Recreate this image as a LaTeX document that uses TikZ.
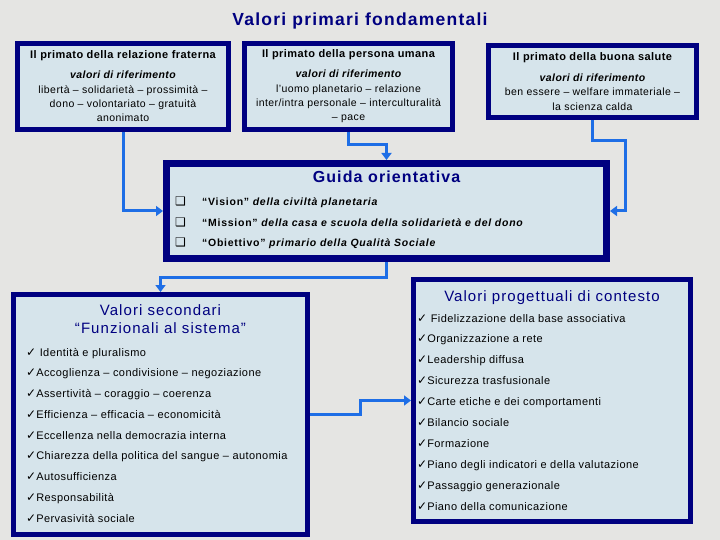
\documentclass[tikz,border=0pt]{standalone}
\usepackage{fontspec}
\setmainfont{Liberation Sans}[LetterSpace=4]
\newfontfamily\widefont{Liberation Sans}[LetterSpace=7]
\newfontfamily\symfont{DejaVu Sans}
\usetikzlibrary{arrows.meta,positioning}
\definecolor{valnavy}{RGB}{0,0,128}
\definecolor{valfill}{RGB}{214,228,235}
\definecolor{vallink}{RGB}{30,110,230}
\definecolor{valback}{RGB}{229,229,227}
\newcommand{\chk}{{\symfont\fontsize{12}{9}\selectfont ✓}}
\newcommand{\sqb}{{\symfont\fontsize{12}{10}\selectfont ❑}}

\begin{document}
\begin{tikzpicture}[x=1pt,y=-1pt,
    valbox/.style={draw=valnavy,fill=valfill,line width=5pt,inner sep=0pt,anchor=north west},
    primtext/.style={align=center,font=\fontsize{10.5}{14.3}\selectfont},
    vlink/.style={draw=vallink,line width=3pt,-{Triangle[width=10pt,length=7pt]}},
    boxtitle/.style={text=valnavy,font=\widefont\fontsize{15}{18}\selectfont},
    listitem/.style={anchor=base west,inner sep=0pt,font=\fontsize{11}{13}\selectfont}]
    \useasboundingbox[fill=valback] (0,0) rectangle (720,540);
    \node[text=valnavy,font=\widefont\bfseries\fontsize{17.5}{20}\selectfont] (title) at (360,21) {Valori primari fondamentali};
    % tre primati
    \node[valbox,primtext,minimum width=211,minimum height=86] (p1) at (15,41)
      {{\bfseries\fontsize{11}{12}\selectfont Il primato della relazione fraterna}\\[5.7pt]
       {\bfseries\itshape valori di riferimento}\\libertà – solidarietà – prossimità –\\dono – volontariato – gratuità\\anonimato};
    \node[valbox,primtext,minimum width=208,minimum height=86] (p2) at (242,41)
      {{\bfseries\fontsize{11}{12}\selectfont Il primato della persona umana}\\[5.7pt]
       {\bfseries\itshape valori di riferimento}\\l'uomo planetario – relazione\\inter/intra personale – interculturalità\\– pace};
    \node[valbox,primtext,minimum width=208,minimum height=72] (p3) at (486,43)
      {{\bfseries\fontsize{11}{12}\selectfont Il primato della buona salute}\\[6.7pt]
       {\bfseries\itshape valori di riferimento}\\ben essere – welfare immateriale –\\la scienza calda};
    % guida
    \node[valbox,line width=7pt,minimum width=440,minimum height=95] (guida) at (163,160) {};
    \node[text=valnavy,font=\widefont\bfseries\fontsize{16}{18}\selectfont] (gtitle) at (386.5,177) {Guida orientativa};
    \foreach \lbl/\rest [count=\i] in {Vision/della civiltà planetaria,
        Mission/della casa e scuola della solidarietà e del dono,
        Obiettivo/primario della Qualità Sociale} {
      \node[listitem] (b\i) at (175,185.5+20.5*\i) {\sqb};
      \node[listitem,font=\widefont\bfseries\fontsize{10.5}{13}\selectfont] (g\i) at (202,185.5+20.5*\i) {“\lbl” \textit{\rest}};
    }
    % valori secondari
    \node[valbox,minimum width=294,minimum height=240] (sec) at (11,292) {};
    \node[boxtitle,align=center] (stitle) at (160.5,319) {Valori secondari\\“Funzionali al sistema”};
    \foreach \itm [count=\i] in {\ Identità e pluralismo,
        Accoglienza – condivisione – negoziazione,
        Assertività – coraggio – coerenza,
        Efficienza – efficacia – economicità,
        Eccellenza nella democrazia interna,
        Chiarezza della politica del sangue – autonomia,
        Autosufficienza,
        Responsabilità,
        Pervasività sociale}
      \node[listitem] (s\i) at (26,335.25+20.75*\i) {\chk\itm};
    % valori progettuali
    \node[valbox,minimum width=277,minimum height=242] (prog) at (411,277) {};
    \node[boxtitle,anchor=base] (ptitle) at (552,301.5) {Valori progettuali di contesto};
    \foreach \itm [count=\i] in {\ Fidelizzazione della base associativa,
        Organizzazione a rete,
        Leadership diffusa,
        Sicurezza trasfusionale,
        Carte etiche e dei comportamenti,
        Bilancio sociale,
        Formazione,
        Piano degli indicatori e della valutazione,
        Passaggio generazionale,
        Piano della comunicazione}
      \node[listitem] (q\i) at (417,301.1+20.9*\i) {\chk\itm};
    % collegamenti
    \coordinate (p3bend) at (625,141);
    \draw[vlink] (p1.south) |- (guida.west);
    \draw[vlink] (p2.south) -- ++(0,13) -| (guida.north);
    \draw[vlink] (p3.south) |- (p3bend) |- (guida.east);
    \draw[vlink] (guida.south) -- ++(0,15) -| (sec.north);
    \draw[vlink] (sec.east) -- ++(50,0) |- (prog.west);
  \end{tikzpicture}
\end{document}
